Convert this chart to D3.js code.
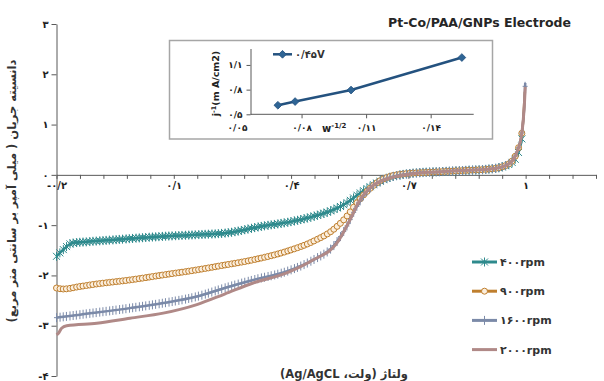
<!DOCTYPE html>
<html>
<head>
<meta charset="utf-8">
<script src="https://cdn.jsdelivr.net/npm/d3@7"></script>
<style>
  body { margin: 0; background: #fff; }
  text { font-family: "DejaVu Sans", "Liberation Sans", sans-serif; }
</style>
</head>
<body>
<svg id="chart" width="604" height="381"></svg>
<script>
// ---- data ----
const seriesLabels = ["400", "900", "1600", "2000"]

const v400 = [-0.2, -0.183, -0.161, -0.12, -0.05, 0.02, 0.08, 0.16, 0.24, 0.32, 0.40, 0.46, 0.50, 0.54, 0.575, 0.61, 0.645, 0.68, 0.72, 0.80, 0.85, 0.90, 0.94, 0.97, 0.982, 0.99, 0.994]
const j400 = [-1.62, -1.49, -1.36, -1.33, -1.29, -1.25, -1.22, -1.19, -1.15, -1.03, -0.93, -0.82, -0.72, -0.57, -0.37, -0.2, -0.07, 0.0, 0.04, 0.07, 0.09, 0.11, 0.16, 0.28, 0.45, 0.7, 0.88]

const v900 = [-0.2, -0.183, -0.14, -0.097, -0.012, 0.073, 0.159, 0.218, 0.303, 0.389, 0.457, 0.508, 0.542, 0.568, 0.594, 0.619, 0.653, 0.69, 0.75, 0.80, 0.85, 0.90, 0.94, 0.968, 0.98, 0.989, 0.994, 0.998]
const j900 = [-2.25, -2.27, -2.22, -2.17, -2.09, -1.99, -1.89, -1.81, -1.69, -1.52, -1.32, -1.09, -0.83, -0.56, -0.33, -0.16, -0.03, 0.02, 0.05, 0.07, 0.09, 0.11, 0.16, 0.3, 0.5, 0.76, 1.1, 1.65]

const v1600 = [-0.2, -0.14, -0.012, 0.073, 0.159, 0.23, 0.303, 0.389, 0.457, 0.508, 0.542, 0.568, 0.594, 0.628, 0.662, 0.70, 0.75, 0.80, 0.85, 0.90, 0.94, 0.968, 0.98, 0.989, 0.994, 0.997, 0.999]
const j1600 = [-2.84, -2.78, -2.65, -2.55, -2.42, -2.25, -2.09, -1.92, -1.69, -1.42, -1.03, -0.63, -0.33, -0.13, -0.03, 0.02, 0.05, 0.07, 0.09, 0.11, 0.16, 0.3, 0.5, 0.76, 1.1, 1.43, 1.83]

const v2000 = [-0.2, -0.195, -0.187, -0.174, -0.097, -0.012, 0.073, 0.159, 0.23, 0.303, 0.389, 0.457, 0.517, 0.551, 0.576, 0.602, 0.636, 0.67, 0.71, 0.75, 0.80, 0.85, 0.90, 0.94, 0.968, 0.98, 0.989, 0.994, 0.997, 0.999]
const j2000 = [-3.18, -3.15, -3.05, -3.0, -2.95, -2.85, -2.75, -2.58, -2.37, -2.15, -1.95, -1.69, -1.36, -0.89, -0.5, -0.26, -0.1, -0.03, 0.02, 0.05, 0.07, 0.09, 0.11, 0.16, 0.3, 0.5, 0.76, 1.1, 1.43, 1.75]

const xTicks = d3.range(0, 24).map(i => -0.2 + i * 0.06)
const yTicks = [-4, -3, -2, -1, 0, 1, 2, 3]

// inset: 1/j against w^-1/2 at 0.45 V
const insetW = [0.069, 0.077, 0.103, 0.1545]
const insetJ = [0.61, 0.655, 0.795, 1.19]
const insetXTicks = [0.05, 0.08, 0.11, 0.14]
const insetYTicks = [0.5, 0.8, 1.1]

// ---- helpers ----
const faDigits = "۰۱۲۳۴۵۶۷۸۹"
const fa = s => String(s).replace(/\d/g, d => faDigits[d]).replace(".", "/")

const svg = d3.select("#chart")

const x = d3.scaleLinear([-0.2, 1.18], [56.5, 596])
const y = d3.scaleLinear([-4, 3], [376, 24])

const axisColor = "#595959"
const labelColor = "#1e1e1e"

// ---- main axes ----
const yAxis = svg.append("g")
  .attr("transform", "translate(" + x(-0.2) + ",0)")
  .call(d3.axisLeft(y).tickValues(yTicks).tickSize(5).tickSizeOuter(0).tickPadding(3)
    .tickFormat(d => fa(d)))
yAxis.selectAll("path, line").attr("stroke", axisColor)
yAxis.selectAll("text").attr("font-size", 10).attr("font-weight", "bold").attr("fill", labelColor)

const xAxis = svg.append("g")
  .attr("transform", "translate(0," + y(0) + ")")
  .call(d3.axisBottom(x).tickValues(xTicks).tickSize(4).tickSizeOuter(0).tickPadding(3)
    .tickFormat((d, i) => i % 5 === 0 ? fa(+d.toFixed(1)) : ""))
xAxis.selectAll("path, line").attr("stroke", axisColor)
xAxis.selectAll("text").attr("font-size", 10).attr("font-weight", "bold").attr("fill", labelColor)
  .attr("direction", "ltr")

// axis titles
svg.append("text")
  .attr("transform", "translate(16,191) rotate(-90)")
  .attr("text-anchor", "middle")
  .attr("direction", "rtl")
  .attr("font-size", 11.5).attr("font-weight", "bold").attr("fill", "#333")
  .text("دانسیته جریان ( میلی آمپر بر سانتی متر مربع)")

svg.append("text")
  .attr("x", 344).attr("y", 378)
  .attr("text-anchor", "middle")
  .attr("direction", "rtl")
  .attr("font-size", 11.5).attr("font-weight", "bold").attr("fill", "#333")
  .text("ولتاژ (ولت، Ag/AgCL)")

svg.append("text")
  .attr("x", 388).attr("y", 27)
  .attr("font-family", "Liberation Sans")
  .attr("font-size", 12.5).attr("font-weight", "bold").attr("fill", "#262626")
  .text("Pt-Co/PAA/GNPs Electrode")

// ---- series ----
const markers = {
  star: "M-3.5,-3.5L3.5,3.5M-3.5,3.5L3.5,-3.5M0,-4.5L0,4.5",
  plus: "M0,-4.5L0,4.5M-2.5,0L2.5,0"
}

const series = [
  { v: v400, j: j400, color: "#2e8a8d", marker: "star" },
  { v: v900, j: j900, color: "#bf7f2e", marker: "circle" },
  { v: v1600, j: j1600, color: "#7b8aa8", marker: "plus" },
  { v: v2000, j: j2000, color: "#b08987", marker: null }
]

const line = d3.line().curve(d3.curveMonotoneX)

// markers placed along the drawn path at a constant voltage step, like the sweep
function markerPoints(node, stepPx) {
  const L = node.getTotalLength()
  const pts = []
  let next = node.getPointAtLength(0).x
  for (let l = 0; l <= L; l += 0.4) {
    const p = node.getPointAtLength(l)
    if (p.x >= next) { pts.push([p.x, p.y]); next += stepPx }
  }
  return pts
}

function drawMarker(g, kind, color, pts) {
  if (kind === "circle") {
    g.selectAll("circle").data(pts).join("circle")
      .attr("cx", d => d[0]).attr("cy", d => d[1]).attr("r", 3)
      .attr("fill", "#fbeedd").attr("stroke", color).attr("stroke-width", 1)
  } else if (kind) {
    g.selectAll("path").data(pts).join("path")
      .attr("d", markers[kind])
      .attr("transform", d => "translate(" + d[0] + "," + d[1] + ")")
      .attr("fill", "none").attr("stroke", color).attr("stroke-width", 1)
  }
}

series.forEach(s => {
  const pts = s.v.map((v, i) => [x(v), y(s.j[i])])
  const path = svg.append("path")
    .attr("d", line(pts))
    .attr("fill", "none")
    .attr("stroke", s.color)
    .attr("stroke-width", s.marker ? 2.5 : 3)
  if (s.marker) {
    drawMarker(svg.append("g"), s.marker, s.color, markerPoints(path.node(), 3.3))
  }
})

// ---- legend ----
const legend = svg.append("g")
series.forEach((s, i) => {
  const ly = 262 + i * 29.2
  const g = legend.append("g").attr("transform", "translate(0," + ly + ")")
  g.append("line").attr("x1", 472).attr("x2", 497).attr("y1", 0).attr("y2", 0)
    .attr("stroke", s.color).attr("stroke-width", 3)
  if (s.marker) drawMarker(g.append("g"), s.marker, s.color, [[484.5, 0]])
  g.append("text").attr("x", 500).attr("y", 4)
    .attr("font-size", 11).attr("font-weight", "bold").attr("fill", "#333")
    .text(fa(seriesLabels[i]) + "rpm")
})

// ---- inset ----
const inset = svg.append("g")
inset.append("rect")
  .attr("x", 169.5).attr("y", 40.5).attr("width", 323).attr("height", 98.5)
  .attr("fill", "#fff").attr("stroke", "#a6a6a6").attr("stroke-width", 1.5)

const ix = d3.scaleLinear([0.05, 0.16], [237, 473.7])
const iy = d3.scaleLinear([0.5, 1.3], [114.3, 48.5])
const ix0 = 250.5

const iyAxis = inset.append("g")
  .attr("transform", "translate(" + ix0 + ",0)")
  .call(d3.axisLeft(iy).tickValues(insetYTicks).tickSize(4).tickSizeOuter(0).tickPadding(4)
    .tickFormat(d => fa(d.toFixed(1))))
iyAxis.selectAll("path, line").attr("stroke", axisColor)
iyAxis.selectAll("text").attr("font-size", 9).attr("font-weight", "bold").attr("fill", labelColor)

const ixAxis = inset.append("g")
  .attr("transform", "translate(0," + iy(0.5) + ")")
  .call(d3.axisBottom(ix).tickValues(insetXTicks).tickSize(4).tickPadding(6)
    .tickFormat(d => fa(d.toFixed(2))))
ixAxis.select(".domain").remove()
ixAxis.selectAll(".tick line").filter(d => d < 0.06).remove()
ixAxis.selectAll("line").attr("stroke", axisColor)
ixAxis.selectAll("text").attr("font-size", 9).attr("font-weight", "bold").attr("fill", labelColor)
inset.append("line")
  .attr("x1", ix0).attr("x2", ix(0.16)).attr("y1", iy(0.5)).attr("y2", iy(0.5))
  .attr("stroke", axisColor)

const insetColor = "#24527f"
inset.append("path")
  .attr("d", d3.line()(insetW.map((w, i) => [ix(w), iy(insetJ[i])])))
  .attr("fill", "none").attr("stroke", insetColor).attr("stroke-width", 2.5)
inset.selectAll(".dia").data(insetW).join("path")
  .attr("class", "dia")
  .attr("d", d3.symbol(d3.symbolSquare, 30)())
  .attr("transform", (w, i) => "translate(" + ix(w) + "," + iy(insetJ[i]) + ") rotate(45)")
  .attr("fill", "#2f6595").attr("stroke", insetColor).attr("stroke-width", 0.8)

// inset legend
inset.append("line").attr("x1", 273).attr("x2", 292).attr("y1", 54.3).attr("y2", 54.3)
  .attr("stroke", insetColor).attr("stroke-width", 2.5)
inset.append("path").attr("d", d3.symbol(d3.symbolSquare, 30)())
  .attr("transform", "translate(282.5,54.3) rotate(45)")
  .attr("fill", "#2f6595").attr("stroke", insetColor).attr("stroke-width", 0.8)
inset.append("text").attr("x", 295).attr("y", 58)
  .attr("font-size", 10).attr("font-weight", "bold").attr("fill", "#333")
  .text(fa("0.45") + "V")

// inset titles
const iyt = inset.append("text")
  .attr("transform", "translate(219,83.5) rotate(-90)")
  .attr("text-anchor", "middle")
  .attr("font-family", "Liberation Sans")
  .attr("font-size", 9.5).attr("font-weight", "bold").attr("fill", "#222")
iyt.append("tspan").text("j")
iyt.append("tspan").attr("dy", -3.5).attr("font-size", 6.5).text("-1")
iyt.append("tspan").attr("dy", 3.5).text("(m A/cm2)")

const ixt = inset.append("text")
  .attr("x", 322).attr("y", 131.5)
  .attr("font-family", "Liberation Sans")
  .attr("font-size", 10).attr("font-weight", "bold").attr("fill", "#222")
ixt.append("tspan").text("w")
ixt.append("tspan").attr("dy", -4).attr("font-size", 7).text("-1/2")
</script>
</body>
</html>
